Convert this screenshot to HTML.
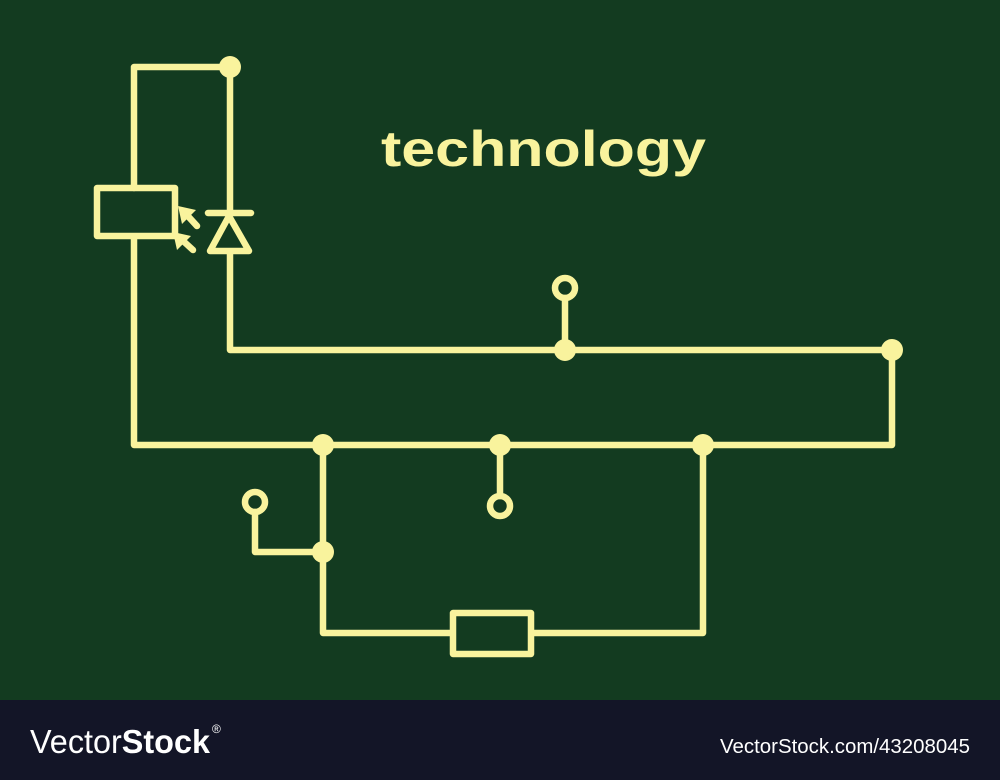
<!DOCTYPE html>
<html><head><style>
body{margin:0;width:1000px;height:780px;overflow:hidden;background:#133b20;font-family:"Liberation Sans",sans-serif}
</style></head><body>
<svg width="1000" height="780" xmlns="http://www.w3.org/2000/svg" style="position:absolute;left:0;top:0">
<rect width="1000" height="700" fill="#133b20"/>
<rect y="700" width="1000" height="80" fill="#131527"/>
<g stroke="#f9f39d" stroke-width="6.5" fill="none" stroke-linecap="round" stroke-linejoin="round">
<polyline points="134,188 134,67 230,67 230,213"/>
<polyline points="230,252 230,350 892,350 892,445 134,445 134,237"/>
<rect x="97" y="188" width="78" height="48"/>
<line x1="208" y1="213" x2="251" y2="213"/>
<polygon points="229,216 210,251 249,251"/>
<line x1="565" y1="350" x2="565" y2="298"/>
<circle cx="565" cy="288" r="10"/>
<line x1="500" y1="445" x2="500" y2="496"/>
<circle cx="500" cy="506" r="10"/>
<polyline points="323,445 323,633 452,633"/>
<polyline points="532,633 703,633 703,445"/>
<rect x="453" y="613" width="78" height="41"/>
<polyline points="323,552 255,552 255,512"/>
<circle cx="255" cy="502" r="10"/>
<line x1="186" y1="214" x2="197" y2="226"/>
<line x1="181" y1="239" x2="193" y2="250"/>
</g>
<g fill="#f9f39d">
<circle cx="230" cy="67" r="11"/>
<circle cx="565" cy="350" r="11"/>
<circle cx="892" cy="350" r="11"/>
<circle cx="323" cy="445" r="11"/>
<circle cx="500" cy="445" r="11"/>
<circle cx="703" cy="445" r="11"/>
<circle cx="323" cy="552" r="11"/>
<polygon points="178,206 196,210 182,224"/>
<polygon points="173,232 191,236 177,250"/>
</g>
<text x="381" y="166" font-size="50" font-weight="bold" fill="#f9f39d" textLength="325" lengthAdjust="spacingAndGlyphs">technology</text>
<text x="30" y="753" font-size="33" fill="#fff" textLength="180" lengthAdjust="spacingAndGlyphs">Vector<tspan font-weight="bold">Stock</tspan></text>
<text x="212" y="733" font-size="12" fill="#fff">®</text>
<text x="970" y="753" font-size="20" fill="#fff" text-anchor="end" textLength="250" lengthAdjust="spacingAndGlyphs">VectorStock.com/43208045</text>
</svg>
</body></html>
